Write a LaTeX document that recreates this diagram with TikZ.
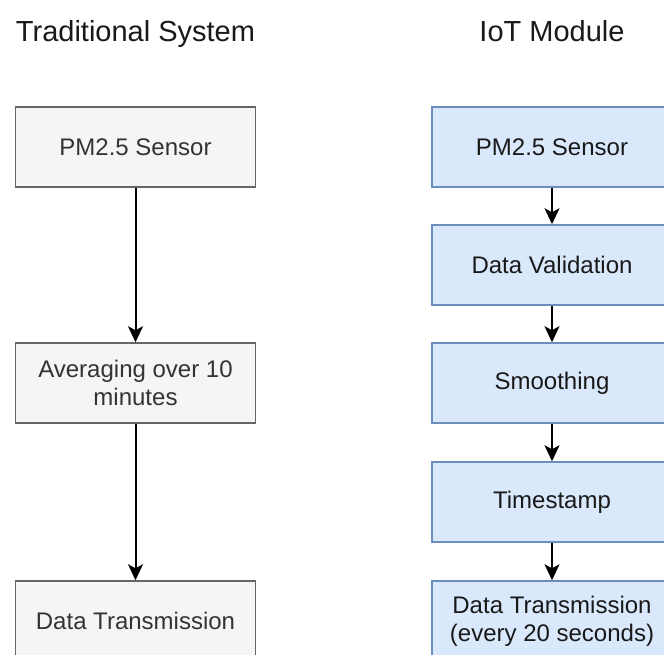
\documentclass[tikz,border=0pt]{standalone}
\usepackage{fontspec}
\setmainfont{Liberation Sans}
\usetikzlibrary{arrows.meta}
\definecolor{greyfill}{HTML}{F5F5F5}
\definecolor{greyline}{HTML}{666666}
\definecolor{greytext}{HTML}{333333}
\definecolor{bluefill}{HTML}{DAE8FC}
\definecolor{blueline}{HTML}{6C8EBF}
\tikzset{
  title/.style={font=\fontsize{29}{34}\selectfont, text=black!90, anchor=base},
  stage/.style={rectangle, minimum width=240pt, minimum height=80pt,
    line width=1.5pt, align=center, inner sep=0pt,
    font=\fontsize{24}{28}\selectfont},
  oldstage/.style={stage, draw=greyline, fill=greyfill, text=greytext},
  newstage/.style={stage, draw=blueline, fill=bluefill, text=black!90},
  flow/.style={line width=2pt, black,
    -{Stealth[length=16pt, width=15pt, inset=4pt]}},
}
\begin{document}
\begin{tikzpicture}[x=1pt, y=-1pt]
  \useasboundingbox (0,0) rectangle (664,654);
  \clip (0,0) rectangle (664,654);
  \fill[white] (0,0) rectangle (664,654);

  % column headings
  \node[title] (tradtitle) at (135.5,41) {Traditional System};
  \node[title] (iottitle) at (552,41) {IoT Module};

  % traditional pipeline
  \node[oldstage] (t1) at (135.5,147) {PM2.5 Sensor};
  \node[oldstage] (t2) at (135.5,383) {Averaging over 10\\minutes};
  \node[oldstage] (t3) at (135.5,621) {Data Transmission};

  % IoT pipeline
  \node[newstage] (i1) at (552,147) {PM2.5 Sensor};
  \node[newstage] (i2) at (552,265) {Data Validation};
  \node[newstage] (i3) at (552,383) {Smoothing};
  \node[newstage] (i4) at (552,502) {Timestamp};
  \node[newstage] (i5) at (552,621) {Data Transmission\\(every 20 seconds)};

  \draw[flow] (t1) -- (t2);
  \draw[flow] (t2) -- (t3);
  \draw[flow] (i1) -- (i2);
  \draw[flow] (i2) -- (i3);
  \draw[flow] (i3) -- (i4);
  \draw[flow] (i4) -- (i5);
\end{tikzpicture}
\end{document}
